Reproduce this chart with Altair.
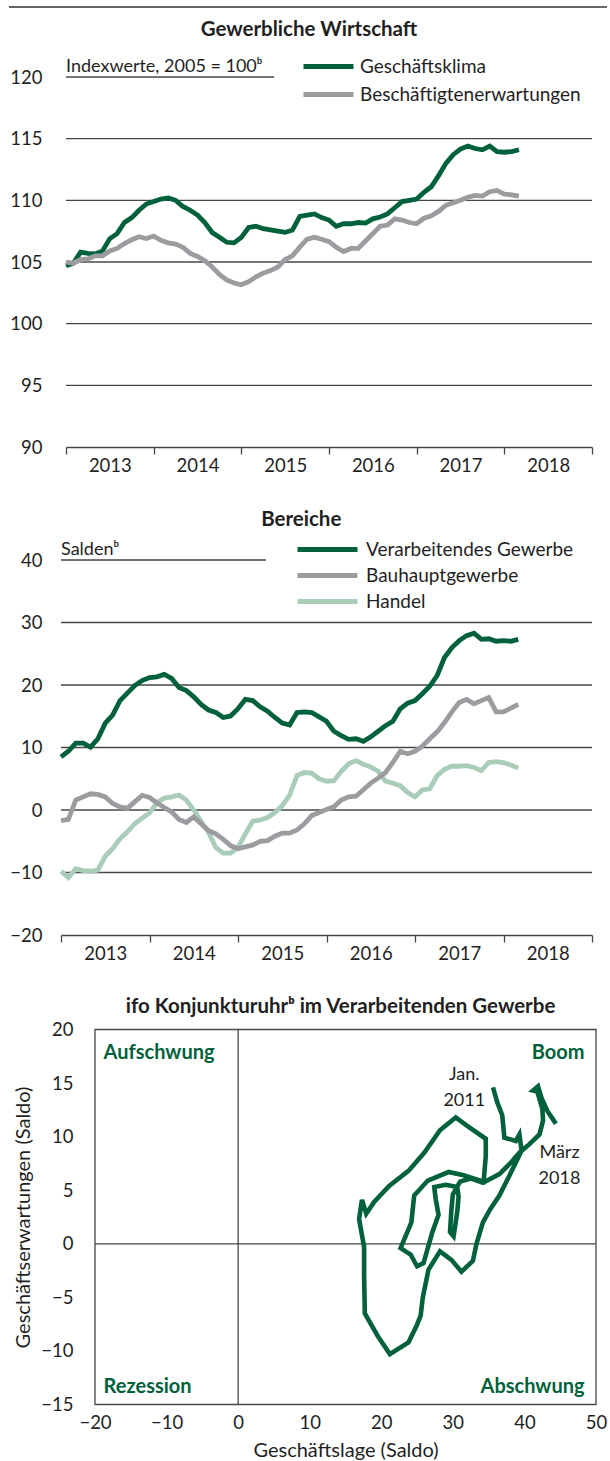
import altair as alt
import pandas as pd

# ---------------- data ----------------
years = [2013, 2014, 2015, 2016, 2017, 2018]   # monthly series start Jan 2013 (index 0)

geschaeftsklima = [104.7, 104.9, 105.8, 105.7, 105.65, 105.9, 106.9, 107.3, 108.2, 108.6,
                   109.2, 109.7, 109.9, 110.1, 110.2, 110.0, 109.5, 109.2, 108.8, 108.2,
                   107.4, 107.0, 106.6, 106.55, 107.0, 107.8, 107.9, 107.7, 107.6, 107.5,
                   107.4, 107.6, 108.7, 108.8, 108.9, 108.6, 108.4, 107.9, 108.1, 108.1,
                   108.2, 108.15, 108.5, 108.65, 108.9, 109.4, 109.9, 110.0, 110.1, 110.65,
                   111.1, 112.0, 113.0, 113.7, 114.15, 114.4, 114.2, 114.1, 114.4, 113.95,
                   113.9, 113.95, 114.1]
beschaeftigtenerwartungen = [105.0, 104.9, 105.2, 105.25, 105.5, 105.5, 105.9, 106.1, 106.5, 106.8,
                             107.05, 106.9, 107.1, 106.75, 106.55, 106.45, 106.2, 105.7, 105.45, 105.1,
                             104.6, 104.0, 103.55, 103.3, 103.15, 103.4, 103.8, 104.1, 104.3, 104.6,
                             105.2, 105.5, 106.2, 106.85, 107.0, 106.85, 106.65, 106.2, 105.85, 106.1,
                             106.1, 106.7, 107.3, 107.9, 108.0, 108.5, 108.4, 108.2, 108.1, 108.55,
                             108.75, 109.1, 109.6, 109.8, 110.0, 110.25, 110.4, 110.35, 110.7, 110.8,
                             110.5, 110.45, 110.35]

verarbeitendes = [8.5, 9.4, 10.7, 10.7, 10.05, 11.4, 13.9, 15.2, 17.5, 18.7,
                  19.9, 20.7, 21.2, 21.3, 21.7, 21.05, 19.6, 19.1, 18.1, 16.9,
                  16.0, 15.6, 14.8, 15.05, 16.2, 17.7, 17.5, 16.5, 15.8, 14.8,
                  13.9, 13.6, 15.6, 15.7, 15.6, 14.9, 14.2, 12.6, 11.9, 11.3,
                  11.4, 11.0, 11.7, 12.6, 13.5, 14.2, 16.2, 17.1, 17.5, 18.6,
                  19.8, 21.5, 24.4, 26.0, 27.1, 27.9, 28.3, 27.3, 27.4, 27.0,
                  27.1, 27.0, 27.3]
bauhaupt = [-1.7, -1.5, 1.6, 2.1, 2.6, 2.5, 2.1, 1.05, 0.5, 0.26,
            1.3, 2.35, 2.0, 1.15, 0.4, -0.3, -1.5, -2.0, -1.1, -2.2,
            -3.3, -3.8, -4.7, -5.7, -6.2, -5.9, -5.6, -5.0, -4.9, -4.2,
            -3.7, -3.7, -3.2, -2.2, -0.9, -0.4, 0.1, 0.5, 1.6, 2.1,
            2.2, 3.25, 4.3, 5.1, 6.0, 7.6, 9.4, 9.0, 9.4, 10.2,
            11.4, 12.5, 14.0, 15.7, 17.2, 17.7, 17.0, 17.5, 18.0, 15.7,
            15.7, 16.3, 16.9]
handel = [-9.8, -10.8, -9.4, -9.7, -9.8, -9.6, -7.4, -6.2, -4.6, -3.5,
          -2.2, -1.3, -0.5, 1.2, 1.9, 2.1, 2.4, 1.6, 0.0, -1.8,
          -3.6, -6.0, -6.9, -6.9, -6.0, -3.8, -1.8, -1.6, -1.2, -0.4,
          0.7, 2.4, 5.5, 6.0, 5.9, 5.0, 4.6, 4.7, 6.2, 7.4,
          7.9, 7.3, 6.9, 6.2, 4.6, 4.3, 3.9, 2.8, 2.1, 3.2,
          3.4, 5.5, 6.5, 7.0, 7.0, 7.1, 6.8, 6.3, 7.6, 7.75,
          7.6, 7.2, 6.7]

# ifo Konjunkturuhr Verarbeitendes Gewerbe, path Jan. 2011 -> März 2018
geschaeftslage = [35.6, 36.2, 36.9, 37.2, 38.8, 39.3, 39.6, 38.0, 36.5, 35.2,
                  34.2, 33.3, 32.8, 31.2, 29.8, 28.2, 26.6, 25.8, 25.5, 24.9,
                  23.8, 21.2, 19.5, 17.7, 17.6, 17.6, 16.9, 17.3, 17.9, 19.0,
                  21.1, 23.8, 26.0, 28.2, 30.4, 32.0, 34.6, 34.6, 34.3, 31.5,
                  29.4, 26.5, 24.6, 24.2, 22.7, 24.1, 25.0, 25.9, 27.1, 28.0,
                  27.6, 27.4, 29.0, 30.6, 30.8, 30.6, 30.1, 29.6, 29.8, 30.0,
                  31.0, 32.5, 34.2, 36.5, 38.0, 39.3, 40.7, 42.1, 42.6, 42.5,
                  41.8, 41.2, 41.9, 42.4, 43.2, 43.8, 44.4]
geschaeftserwartungen = [14.6, 13.2, 12.0, 9.9, 9.6, 10.2, 8.7, 6.5, 4.5, 3.2,
                         2.0, 0.0, -1.6, -2.6, -1.5, -0.7, -2.4, -5.0, -6.7, -7.7,
                         -9.2, -10.3, -8.6, -6.5, -3.0, -0.3, 2.3, 4.1, 2.8, 3.9,
                         5.4, 6.8, 8.5, 10.6, 11.8, 11.0, 9.8, 8.2, 5.8, 6.4,
                         6.7, 5.9, 4.5, 2.0, -0.4, -1.0, -2.1, -1.8, 1.0, 2.7,
                         4.2, 5.3, 5.5, 5.3, 4.4, 2.9, 0.7, 1.1, 3.2, 4.6,
                         5.8, 6.1, 5.7, 6.5, 7.5, 8.5, 9.3, 10.2, 11.5, 12.6,
                         14.2, 14.3, 14.7, 13.6, 12.4, 11.8, 11.2]

series1 = ["Geschäftsklima", "Beschäftigtenerwartungen"]
series2 = ["Verarbeitendes Gewerbe", "Bauhauptgewerbe", "Handel"]
quad_left = ["Aufschwung", "Rezession"]
quad_right = ["Boom", "Abschwung"]
annotations = ["Jan.\n2011", "März\n2018"]

# annotation anchor points (data units)
QL_X, QR_X = -18.8, 48.4
Q_Y = [17.8, -13.4]
ANN_X = [31.6, 44.9]
ANN_Y = [15.8, 8.5]

# ---------------- style ----------------
FONT = "Lato"
GREEN = "#00613b"
GRAY = "#9c9ca0"
LIGHT = "#a9cdb9"
LINE = "#474747"
TXT = "#1f1f1f"
TICKFS = 18.5

W12 = 531
H1, H2 = 370, 375
W3, H3 = 535, 375
P1_START = 5
P3_START = 34
NM = 72  # months on axis
SEP_FROM, SEP_TO = -7.8, 74.05   # extent of the page separator line, in month units


def month_axis(start, width):
    # ticks at every January; each year label is centred in the preceding year band
    return alt.Axis(values=list(range(0, NM + 1, 12)),
                    labelExpr="datum.value > 0 ? '' + (2012 + datum.value / 12) : ''",
                    labelOffset=-(width - start) / 12, labelFlush=False, labelOverlap=False,
                    tickSize=7, tickColor=LINE, tickWidth=1.3, domainColor=LINE, domainWidth=1.3,
                    grid=False, labelPadding=2, title=None)


one = pd.DataFrame({"k": [0]})

# ---------------- panel 1 ----------------
n = len(geschaeftsklima)
df1 = pd.DataFrame({
    "m": list(range(n)) * 2,
    "v": geschaeftsklima + beschaeftigtenerwartungen,
    "s": [series1[0]] * n + [series1[1]] * n,
})
x1 = alt.Scale(domain=[0, NM], range=[P1_START, W12], nice=False, zero=False)
y1 = alt.Scale(domain=[90, 120], nice=False, zero=False)

# page separator line above the first panel and the panel heading
top_rule = alt.Chart(one).mark_rule(color="#333333", strokeWidth=1.3).encode(
    x=alt.XDatum(SEP_FROM, scale=x1, title=None), x2=alt.X2Datum(SEP_TO), y=alt.value(-70))
head1 = alt.Chart(pd.DataFrame({"t": ["Gewerbliche Wirtschaft"]})).mark_text(
    align="center", baseline="middle", fontSize=20.5, fontWeight="bold", font=FONT, color=TXT
).encode(x=alt.value(248), y=alt.value(-47), text="t:N")

grid1 = alt.Chart(pd.DataFrame({"g": [95, 100, 105, 110, 115]})).mark_rule(
    color=LINE, strokeWidth=1.3).encode(
    x=alt.XDatum(0, scale=x1, title=None), x2=alt.X2Datum(NM),
    y=alt.Y("g:Q", scale=y1, title=None))
under1 = alt.Chart(one).mark_rule(color=LINE, strokeWidth=1.3).encode(
    x=alt.XDatum(0, scale=x1, title=None), x2=alt.X2Datum(28.5),
    y=alt.YDatum(120, scale=y1, title=None))
unit1 = alt.Chart(pd.DataFrame({"t": ["Indexwerte, 2005 = 100ᵇ"]})).mark_text(
    align="left", baseline="alphabetic", dy=-5, fontSize=18, font=FONT, color=TXT).encode(
    x=alt.XDatum(0, scale=x1, title=None), y=alt.YDatum(120, scale=y1, title=None), text="t:N")
lines1 = alt.Chart(df1).mark_line(strokeWidth=4.8).encode(
    x=alt.X("m:Q", scale=x1, axis=month_axis(P1_START, W12)),
    y=alt.Y("v:Q", scale=y1, axis=alt.Axis(values=[90, 95, 100, 105, 110, 115, 120], grid=False,
                                             domain=False, ticks=False, labelPadding=24, offset=-P1_START,
                                             labelFlush=False, title=None)),
    color=alt.Color("s:N", scale=alt.Scale(domain=series1, range=[GREEN, GRAY]),
                    legend=alt.Legend(orient="none", legendX=242, legendY=-20, title=None,
                                      symbolType="M-5,0H5", symbolSize=100, symbolStrokeWidth=5,
                                      symbolOffset=16, labelOffset=22, rowPadding=7, padding=0)),
    order=alt.Order("m:Q"))

p1 = alt.layer(grid1, under1, top_rule, head1, unit1, lines1).properties(width=W12, height=H1)

# ---------------- panel 2 ----------------
df2 = pd.DataFrame({
    "m": list(range(n)) * 3,
    "v": handel + bauhaupt + verarbeitendes,
    "s": [series2[2]] * n + [series2[1]] * n + [series2[0]] * n,
})
x2s = alt.Scale(domain=[0, NM], range=[0, W12], nice=False, zero=False)
y2s = alt.Scale(domain=[-20, 40], nice=False, zero=False)
grid2 = alt.Chart(pd.DataFrame({"g": [-10, 0, 10, 20, 30]})).mark_rule(
    color=LINE, strokeWidth=1.3).encode(
    x=alt.XDatum(0, scale=x2s, title=None), x2=alt.X2Datum(NM),
    y=alt.Y("g:Q", scale=y2s, title=None))
under2 = alt.Chart(one).mark_rule(color=LINE, strokeWidth=1.3).encode(
    x=alt.XDatum(0, scale=x2s, title=None), x2=alt.X2Datum(27.8),
    y=alt.YDatum(40, scale=y2s, title=None))
unit2 = alt.Chart(pd.DataFrame({"t": ["Saldenᵇ"]})).mark_text(
    align="left", baseline="alphabetic", dy=-5, fontSize=18, font=FONT, color=TXT).encode(
    x=alt.XDatum(0, scale=x2s, title=None), y=alt.YDatum(40, scale=y2s, title=None), text="t:N")
lines2 = alt.Chart(df2).mark_line(strokeWidth=4.8).encode(
    x=alt.X("m:Q", scale=x2s, axis=month_axis(0, W12)),
    y=alt.Y("v:Q", scale=y2s, axis=alt.Axis(values=[-20, -10, 0, 10, 20, 30, 40], grid=False,
                                              domain=False, ticks=False, labelPadding=19,
                                              labelFlush=False, title=None)),
    color=alt.Color("s:N", scale=alt.Scale(domain=series2, range=[GREEN, GRAY, LIGHT]),
                    legend=alt.Legend(orient="none", legendX=236, legendY=-20, title=None,
                                      symbolType="M-5,0H5", symbolSize=144, symbolStrokeWidth=5,
                                      symbolOffset=21, labelOffset=29, rowPadding=5, padding=0)),
    order=alt.Order("m:Q"))
p2 = alt.layer(grid2, under2, unit2, lines2).properties(
    width=W12, height=H2,
    title=alt.TitleParams("Bereiche", anchor="middle", frame="bounds", offset=10))

# ---------------- panel 3 ----------------
df3 = pd.DataFrame({"lage": geschaeftslage, "erw": geschaeftserwartungen,
                    "i": list(range(len(geschaeftslage)))})
x3 = alt.Scale(domain=[-20, 50], range=[P3_START, W3], nice=False, zero=False)
y3 = alt.Scale(domain=[-15, 20], nice=False, zero=False)

frame3 = alt.Chart(one).mark_rect(fillOpacity=0, stroke=LINE, strokeWidth=1.3).encode(
    x=alt.XDatum(-20, scale=x3), x2=alt.X2Datum(50),
    y=alt.YDatum(-15, scale=y3), y2=alt.Y2Datum(20))
vzero = alt.Chart(one).mark_rule(color=LINE, strokeWidth=1.3).encode(
    x=alt.XDatum(0, scale=x3),
    y=alt.YDatum(-15, scale=y3), y2=alt.Y2Datum(20))
hzero = alt.Chart(one).mark_rule(color=LINE, strokeWidth=1.3).encode(
    x=alt.XDatum(-20, scale=x3), x2=alt.X2Datum(50),
    y=alt.YDatum(0, scale=y3))
ql = alt.Chart(pd.DataFrame({"t": quad_left, "qy": Q_Y})).mark_text(
    align="left", baseline="middle", fontSize=20, fontWeight="bold", font=FONT, color=GREEN).encode(
    x=alt.XDatum(QL_X, scale=x3), y=alt.Y("qy:Q", scale=y3), text="t:N")
qr = alt.Chart(pd.DataFrame({"t": quad_right, "qy": Q_Y})).mark_text(
    align="right", baseline="middle", fontSize=20, fontWeight="bold", font=FONT, color=GREEN).encode(
    x=alt.XDatum(QR_X, scale=x3), y=alt.Y("qy:Q", scale=y3), text="t:N")
ann = alt.Chart(pd.DataFrame({"t": annotations, "ax": ANN_X, "ay": ANN_Y})).mark_text(
    align="center", baseline="middle", fontSize=18, font=FONT, color=TXT, lineBreak="\n",
    lineHeight=26).encode(
    x=alt.X("ax:Q", scale=x3), y=alt.Y("ay:Q", scale=y3), text="t:N")
path3 = alt.Chart(df3).mark_line(color=GREEN, strokeWidth=4.6).encode(
    x=alt.X("lage:Q", scale=x3,
            axis=alt.Axis(values=list(range(-20, 51, 10)), grid=False, domain=False, ticks=False,
                          labelPadding=9, labelFlush=False, labelOverlap=False,
                          title="Geschäftslage (Saldo)", titlePadding=8)),
    y=alt.Y("erw:Q", scale=y3,
            axis=alt.Axis(values=list(range(-15, 21, 5)), grid=False, domain=False, ticks=False,
                          labelPadding=22, offset=-P3_START, labelFlush=False,
                          title="Geschäftserwartungen (Saldo)", titlePadding=7)),
    order=alt.Order("i:Q"))
p3 = alt.layer(frame3, vzero, hzero, ql, qr, ann, path3).properties(
    width=W3, height=H3,
    title=alt.TitleParams("ifo Konjunkturuhrᵇ im Verarbeitenden Gewerbe", anchor="middle",
                          frame="group", offset=3.5, dx=12))

mid = alt.vconcat(p1, p2, spacing=34).resolve_scale(color="independent")
chart = alt.vconcat(mid, p3, spacing=33.5).resolve_scale(color="independent").properties(
    padding={"left": 8, "top": 6, "right": 0, "bottom": 0}
).configure_view(stroke=None).configure_axis(
    labelFont=FONT, labelFontSize=TICKFS, labelColor=TXT,
    titleFont=FONT, titleFontSize=20, titleColor=TXT, titleFontWeight="normal"
).configure_legend(
    labelFont=FONT, labelFontSize=19, labelColor=TXT, labelLimit=400
).configure_title(
    font=FONT, fontSize=20.5, fontWeight="bold", color=TXT
)

chart.save("out.html", embed_options={"renderer": "svg", "actions": False})
